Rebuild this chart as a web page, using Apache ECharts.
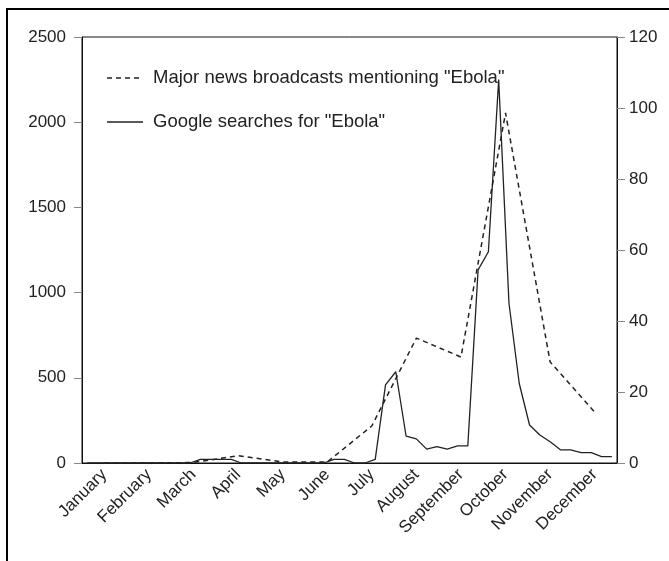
<!DOCTYPE html>
<html>
<head>
<meta charset="utf-8">
<script src="https://cdn.jsdelivr.net/npm/echarts@6/dist/echarts.min.js"></script>
<style>
html,body{margin:0;padding:0;background:#fff;}
#chart{width:669px;height:561px;}
</style>
</head>
<body>
<div id="chart"></div>
<script>
// ---- data ----
var months = ['January','February','March','April','May','June','July','August','September','October','November','December'];
// Major news broadcasts mentioning "Ebola" (monthly, left axis)
var newsBroadcasts = [0, 0, 3, 43, 6, 6, 217, 733, 622, 2054, 593, 299];
// Google searches for "Ebola" (weekly index, right axis)
var weeks = [];
for (var i = 1; i <= 52; i++) weeks.push('W' + i);
var googleSearches = [
  0, 0, 0, 0, 0, 0, 0, 0, 0, 0,
  0, 1, 1, 1, 1, 0, 0, 0, 0, 0,
  0, 0, 0, 0, 1, 1, 0, 0, 1, 22,
  25.7, 7.6, 6.8, 3.9, 4.6, 3.9, 4.8, 4.8, 54.4, 59.5,
  108, 45, 22.4, 10.7, 7.9, 6, 3.7, 3.7, 2.9, 2.9,
  1.8, 1.8
];
var leftTicks = {min: 0, max: 2500, interval: 500};
var rightTicks = {min: 0, max: 120, interval: 20};
var seriesNames = ['Major news broadcasts mentioning "Ebola"', 'Google searches for "Ebola"'];

var FONT = 'Liberation Sans, Arial, sans-serif';
var INK = '#222';
var chart = echarts.init(document.getElementById('chart'));
chart.setOption({
  animation: false,
  backgroundColor: '#fff',
  textStyle: {fontFamily: FONT},
  grid: {left: 82, right: 52, top: 37, bottom: 98, show: true, borderColor: '#111', borderWidth: 1, containLabel: false},
  xAxis: [
    {
      type: 'category', data: months, boundaryGap: true,
      axisLine: {lineStyle: {color: '#111', width: 1}},
      axisTick: {alignWithLabel: true, length: 8, lineStyle: {color: '#888'}},
      axisLabel: {rotate: 45, fontSize: 17, color: INK, margin: 9, interval: 0}
    },
    {
      type: 'category', data: weeks, boundaryGap: true, show: false
    }
  ],
  yAxis: [
    {
      type: 'value', position: 'left', min: leftTicks.min, max: leftTicks.max, interval: leftTicks.interval,
      axisLine: {show: true, lineStyle: {color: '#111'}},
      axisTick: {show: true, length: 8, lineStyle: {color: '#888'}},
      axisLabel: {fontSize: 17, color: INK, margin: 16, formatter: function (v) { return String(v); }},
      splitLine: {show: false}
    },
    {
      type: 'value', position: 'right', min: rightTicks.min, max: rightTicks.max, interval: rightTicks.interval,
      axisLine: {show: true, lineStyle: {color: '#111'}},
      axisTick: {show: true, length: 8, lineStyle: {color: '#888'}},
      axisLabel: {fontSize: 17, color: INK, margin: 12, formatter: function (v) { return String(v); }},
      splitLine: {show: false}
    }
  ],
  series: [
    {
      name: seriesNames[0], type: 'line', xAxisIndex: 0, yAxisIndex: 0,
      data: newsBroadcasts, symbol: 'none', color: INK,
      lineStyle: {color: INK, width: 1.5, type: [5, 4]}
    },
    {
      name: seriesNames[1], type: 'line', xAxisIndex: 1, yAxisIndex: 1,
      data: googleSearches, symbol: 'none', color: INK,
      lineStyle: {color: INK, width: 1.3, type: 'solid'}
    }
  ],
  graphic: [
    {type: 'line', shape: {x1: 6, y1: 9, x2: 669, y2: 9}, style: {stroke: '#000', lineWidth: 2}},
    {type: 'line', shape: {x1: 7, y1: 8, x2: 7, y2: 561}, style: {stroke: '#000', lineWidth: 2}},
    // legend
    {type: 'line', shape: {x1: 107, y1: 78, x2: 143, y2: 78}, style: {stroke: INK, lineWidth: 1.5, lineDash: [5, 4]}},
    {type: 'text', x: 153, y: 78, style: {text: seriesNames[0], fontSize: 18.5, fontFamily: FONT, fill: INK, textVerticalAlign: 'middle', verticalAlign: 'middle'}},
    {type: 'line', shape: {x1: 107, y1: 122, x2: 143, y2: 122}, style: {stroke: INK, lineWidth: 1.3}},
    {type: 'text', x: 153, y: 122, style: {text: seriesNames[1], fontSize: 18.5, fontFamily: FONT, fill: INK, textVerticalAlign: 'middle', verticalAlign: 'middle'}}
  ]
});
</script>
</body>
</html>
